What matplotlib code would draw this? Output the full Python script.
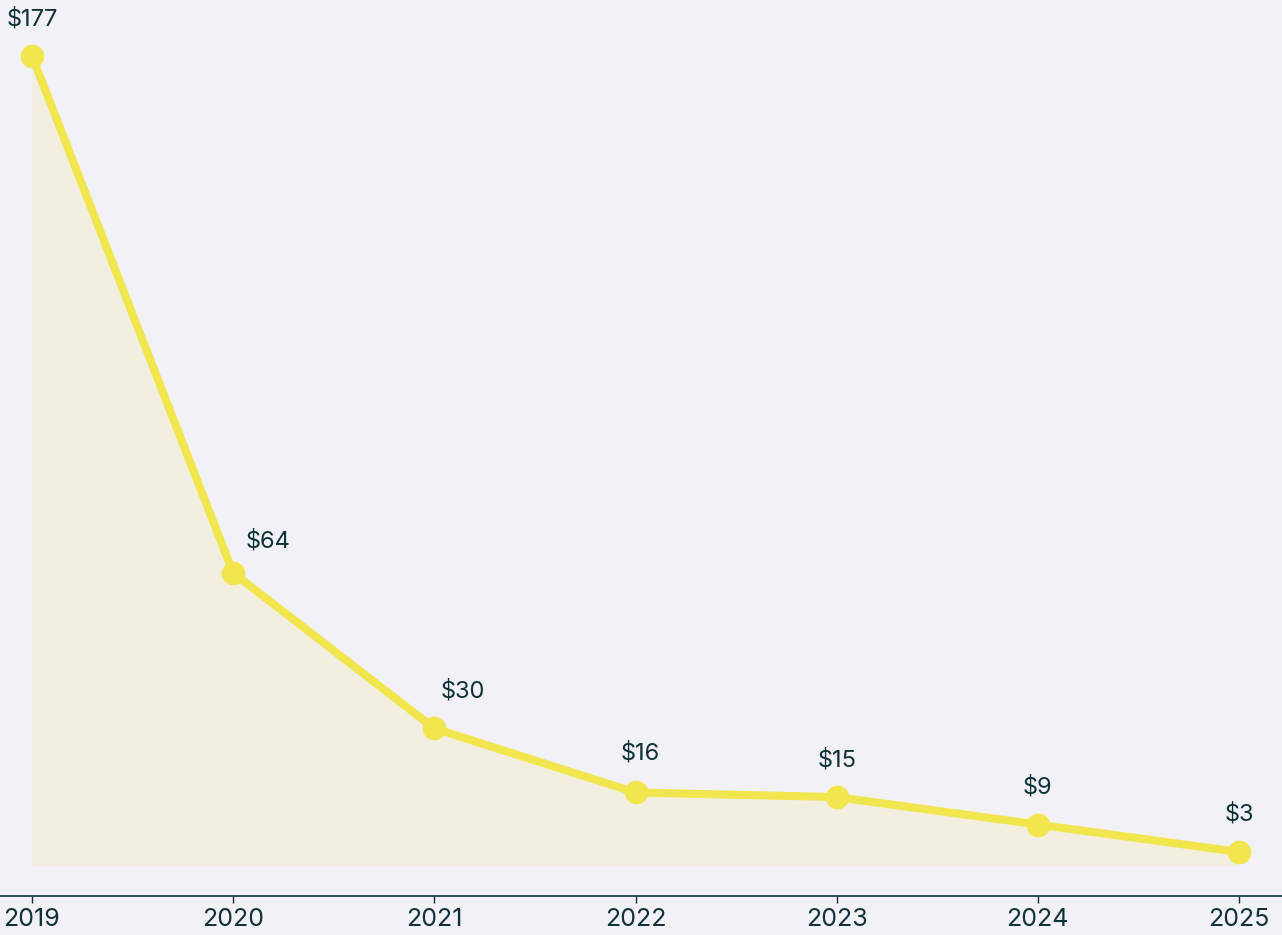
import matplotlib.pyplot as plt

years = [2019, 2020, 2021, 2022, 2023, 2024, 2025]
prices = [177, 64, 30, 16, 15, 9, 3]
labels = ["$177", "$64", "$30", "$16", "$15", "$9", "$3"]
# label offsets in pixels (dx, dy) so they clear the line
offsets = [(0, 37), (35, 32), (28, 37), (5, 39), (0, 37), (0, 37), (0, 38)]

BG = "#f1f1f7"
LINE = "#f2e64e"
FILL = "#f3efe0"
TEXT = "#0e3238"

plt.rcParams['font.family'] = ['Inter', 'DejaVu Sans']

fig = plt.figure(figsize=(12.82, 9.35), dpi=100, facecolor=BG)
ax = fig.add_axes([0, 39 / 935, 1, 896 / 935])
ax.set_facecolor(BG)

ax.fill_between(years, prices, 0, color=FILL, zorder=1, linewidth=0)
ax.plot(years, prices, color=LINE, linewidth=5.8, marker="o", markersize=16,
        solid_capstyle="round", zorder=3)

for x, y, t, (dx, dy) in zip(years, prices, labels, offsets):
    ax.annotate(t, (x, y), xytext=(dx * 0.72, dy * 0.72), textcoords="offset points",
                ha="center", va="center", fontsize=17, color=TEXT)

ax.set_xlim(2019 - 32 / 201.17, 2025 + 43 / 201.17)
ax.set_ylim(-6.62, 189.2)
ax.set_xticks(years)
ax.set_xticklabels([str(y) for y in years])
ax.set_yticks([])
for s in ["top", "right", "left"]:
    ax.spines[s].set_visible(False)
ax.spines["bottom"].set_color(TEXT)
ax.spines["bottom"].set_linewidth(1.2)
ax.tick_params(axis="x", colors=TEXT, labelsize=18, length=5, width=1, pad=4)

fig.savefig("out.png", dpi=100, facecolor=BG)
